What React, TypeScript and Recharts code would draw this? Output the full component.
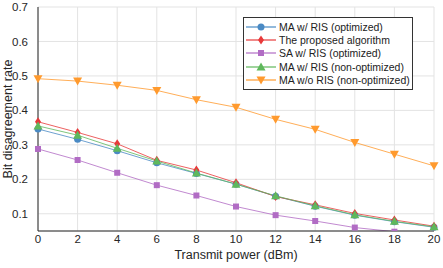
import { LineChart, Line, XAxis, YAxis, CartesianGrid } from 'recharts';

const powers = [0, 2, 4, 6, 8, 10, 12, 14, 16, 18, 20];
const maOptimized = [0.346, 0.316, 0.283, 0.248, 0.217, 0.186, 0.151, 0.122, 0.096, 0.077, 0.061];
const proposed = [0.367, 0.336, 0.303, 0.255, 0.227, 0.19, 0.15, 0.126, 0.101, 0.082, 0.064];
const saOptimized = [0.288, 0.256, 0.219, 0.183, 0.153, 0.121, 0.096, 0.079, 0.06, 0.048, 0.036];
const maNonOptimized = [0.355, 0.328, 0.29, 0.253, 0.218, 0.186, 0.152, 0.123, 0.097, 0.078, 0.062];
const maNoRis = [0.492, 0.485, 0.473, 0.458, 0.431, 0.409, 0.374, 0.345, 0.307, 0.273, 0.239];

const xTicks = [0, 2, 4, 6, 8, 10, 12, 14, 16, 18, 20];
const yTicks = [0.1, 0.2, 0.3, 0.4, 0.5, 0.6, 0.7];

const data = powers.map((p, i) => ({
  power: p,
  maOpt: maOptimized[i],
  proposed: proposed[i],
  saOpt: saOptimized[i],
  maNon: maNonOptimized[i],
  maNoRis: maNoRis[i],
}));

type Shape = 'circle' | 'diamond' | 'square' | 'up' | 'down';

const series: { key: string; name: string; color: string; shape: Shape }[] = [
  { key: 'maOpt', name: 'MA w/ RIS (optimized)', color: '#4a8ac4', shape: 'circle' },
  { key: 'proposed', name: 'The proposed algorithm', color: '#e8393a', shape: 'diamond' },
  { key: 'saOpt', name: 'SA w/ RIS (optimized)', color: '#b16cc4', shape: 'square' },
  { key: 'maNon', name: 'MA w/ RIS (non-optimized)', color: '#5fb85c', shape: 'up' },
  { key: 'maNoRis', name: 'MA w/o RIS (non-optimized)', color: '#ff9a2e', shape: 'down' },
];

const font = 'Liberation Sans, Arial, sans-serif';

function marker(shape: Shape, cx: number, cy: number, color: string, key?: string | number) {
  if (shape === 'circle') return <circle key={key} cx={cx} cy={cy} r={3.5} fill={color} />;
  if (shape === 'square') return <rect key={key} x={cx - 3} y={cy - 3} width={6} height={6} fill={color} />;
  if (shape === 'diamond')
    return <polygon key={key} points={`${cx},${cy - 4.5} ${cx + 3},${cy} ${cx},${cy + 4.5} ${cx - 3},${cy}`} fill={color} />;
  if (shape === 'up')
    return <polygon key={key} points={`${cx},${cy - 4.5} ${cx + 4.5},${cy + 3.5} ${cx - 4.5},${cy + 3.5}`} fill={color} />;
  return <polygon key={key} points={`${cx},${cy + 4.5} ${cx + 4.5},${cy - 3.5} ${cx - 4.5},${cy - 3.5}`} fill={color} />;
}

const axisColor = '#262626';
const tickStyle = { fill: '#262626', fontSize: 11.5, fontFamily: font };

export default function App() {
  return (
    <div style={{ position: 'absolute', left: 0, top: 0, width: 443, height: 268, background: '#fff' }}>
      <LineChart width={443} height={268} data={data} margin={{ top: 7, right: 9, bottom: 0, left: 0 }}>
        <CartesianGrid stroke="#e3e3e3" strokeWidth={1} />
        <XAxis
          dataKey="power"
          type="number"
          domain={[0, 20]}
          ticks={xTicks}
          interval={0}
          tickLine={false}
          tickSize={2}
          axisLine={{ stroke: axisColor }}
          tick={tickStyle}
          tickMargin={2}
          height={37}
          label={{
            value: 'Transmit power (dBm)',
            position: 'insideBottom',
            offset: 9,
            style: { fill: '#262626', fontSize: 12.5, fontFamily: font },
          }}
        />
        <XAxis xAxisId="top" orientation="top" dataKey="power" type="number" domain={[0, 20]} tick={false} tickLine={false} height={0} axisLine={{ stroke: axisColor }} />
        <YAxis
          type="number"
          domain={[0.05, 0.7]}
          ticks={yTicks}
          allowDataOverflow
          tickLine={false}
          axisLine={{ stroke: axisColor }}
          tick={tickStyle}
          tickMargin={4}
          width={38}
          label={{
            value: 'Bit disagreement rate',
            angle: -90,
            position: 'insideLeft',
            offset: 0,
            dx: 8,
            style: { textAnchor: 'middle', fill: '#262626', fontSize: 12.5, fontFamily: font },
          }}
        />
        <YAxis yAxisId="right" orientation="right" domain={[0.05, 0.7]} tick={false} tickLine={false} width={0} axisLine={{ stroke: axisColor }} />
        {series.map((s) => (
          <Line
            key={s.key}
            dataKey={s.key}
            name={s.name}
            stroke={s.color}
            strokeOpacity={0.8}
            strokeWidth={1}
            isAnimationActive={false}
            dot={(p: any) => marker(s.shape, p.cx, p.cy, s.color, `${s.key}-${p.index}`)}
            activeDot={false}
          />
        ))}
      </LineChart>
      <div
        style={{
          position: 'absolute',
          left: 243,
          top: 17,
          width: 170,
          boxSizing: 'border-box',
          border: '1px solid #333',
          background: '#fff',
          padding: '2px 0 2px 2px',
          fontFamily: font,
          fontSize: 10.5,
          color: '#222',
        }}
      >
        {series.map((s) => (
          <div key={s.key} style={{ display: 'flex', alignItems: 'center', height: 13.4, whiteSpace: 'nowrap' }}>
            <svg width={30} height={12} style={{ marginRight: 3 }}>
              <line x1={0} y1={6} x2={30} y2={6} stroke={s.color} strokeWidth={1.2} />
              {marker(s.shape, 15, 6, s.color)}
            </svg>
            <span>{s.name}</span>
          </div>
        ))}
      </div>
    </div>
  );
}
